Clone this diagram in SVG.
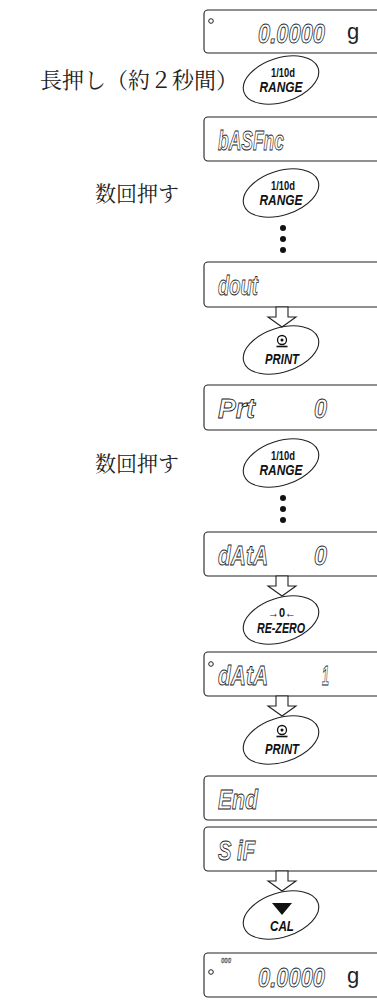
<svg xmlns="http://www.w3.org/2000/svg" width="377" height="1007" viewBox="0 0 377 1007">
<style>
.box{fill:#fff;stroke:#222;stroke-width:1.1}
.seg{font-family:"Liberation Sans",Arial,sans-serif;font-weight:bold;font-style:italic;font-size:28px;fill:#fff;stroke:#222;stroke-width:0.9}
.small{font-size:8px;stroke-width:0.45}
.unit{font-family:"Liberation Sans",Arial,sans-serif;font-size:22px;fill:#222}
.ind{fill:none;stroke:#222;stroke-width:1}
.key{fill:#fff;stroke:#222;stroke-width:1.1}
.kt{font-family:"Liberation Sans",Arial,sans-serif;font-weight:bold;font-size:12px;fill:#111;text-anchor:middle}
.kn{font-family:"Liberation Sans",Arial,sans-serif;font-weight:bold;font-style:italic;font-size:14px;fill:#111;text-anchor:middle}
.jp{font-family:"Noto Serif CJK JP","Noto Sans CJK JP",serif;fill:#222;text-anchor:end}
.arrow{fill:#fff;stroke:#222;stroke-width:1.1}
.dot{fill:#111}
</style>
<defs>
<polygon id="harrow" class="arrow" points="-6,0 6,0 6,10 14,10 0,20 -14,10 -6,10"/>
<ellipse id="keyshape" class="key" rx="39" ry="22" transform="rotate(-18)"/>
<g id="printicon">
<circle cx="0" cy="-10" r="4.5" fill="#fff" stroke="#111" stroke-width="1.3"/>
<circle cx="0" cy="-10" r="1.5" fill="#111"/>
<line x1="-5.5" y1="-3.5" x2="5.5" y2="-3.5" stroke="#111" stroke-width="1.6"/>
</g>
</defs>

<g id="disp1">
<rect class="box" x="204" y="10" width="190" height="43" rx="4"/>
<circle class="ind" cx="211" cy="21" r="2.3"/>
<text class="seg" x="258" y="43" textLength="67" lengthAdjust="spacingAndGlyphs">0.0000</text>
<text class="unit" x="347" y="39">g</text>
</g>

<g id="key1">
<text class="jp" x="238" y="88" font-size="22">長押し（約２秒間）</text>
<use href="#keyshape" transform="translate(281,80)"/>
<text class="kt" x="283" y="77" textLength="24" lengthAdjust="spacingAndGlyphs">1/10d</text>
<text class="kn" x="281" y="92" textLength="43" lengthAdjust="spacingAndGlyphs">RANGE</text>
</g>

<g id="disp2">
<rect class="box" x="204" y="117" width="190" height="44" rx="4"/>
<text class="seg" x="218" y="150" textLength="66" lengthAdjust="spacingAndGlyphs">bASFnc</text>
</g>

<g id="key2">
<text class="jp" x="179" y="201" font-size="21">数回押す</text>
<use href="#keyshape" transform="translate(281,193)"/>
<text class="kt" x="283" y="190" textLength="24" lengthAdjust="spacingAndGlyphs">1/10d</text>
<text class="kn" x="281" y="205" textLength="43" lengthAdjust="spacingAndGlyphs">RANGE</text>
</g>

<g id="disp3">
<rect class="box" x="204" y="262" width="190" height="45" rx="4"/>
<text class="seg" x="218" y="295" textLength="40" lengthAdjust="spacingAndGlyphs">dout</text>
</g>

<g id="key3">
<use href="#keyshape" transform="translate(281,350)"/>
<use href="#printicon" transform="translate(282,350)"/>
<text class="kn" x="282" y="364" textLength="34" lengthAdjust="spacingAndGlyphs">PRINT</text>
</g>

<g id="disp4">
<rect class="box" x="204" y="385" width="190" height="45" rx="4"/>
<text class="seg" x="218" y="418" textLength="37" lengthAdjust="spacingAndGlyphs">Prt</text>
<text class="seg" x="314" y="418" textLength="13" lengthAdjust="spacingAndGlyphs">0</text>
</g>

<g id="key4">
<text class="jp" x="179" y="471" font-size="21">数回押す</text>
<use href="#keyshape" transform="translate(281,463)"/>
<text class="kt" x="283" y="460" textLength="24" lengthAdjust="spacingAndGlyphs">1/10d</text>
<text class="kn" x="281" y="475" textLength="43" lengthAdjust="spacingAndGlyphs">RANGE</text>
</g>

<g id="disp5">
<rect class="box" x="204" y="532" width="190" height="44" rx="4"/>
<text class="seg" x="218" y="565" textLength="50" lengthAdjust="spacingAndGlyphs">dAtA</text>
<text class="seg" x="314" y="565" textLength="13" lengthAdjust="spacingAndGlyphs">0</text>
</g>

<g id="key5">
<use href="#keyshape" transform="translate(281,620)"/>
<text class="kt" x="282" y="617" font-size="14" textLength="28" lengthAdjust="spacingAndGlyphs">→0←</text>
<text class="kn" x="281" y="633" textLength="48" lengthAdjust="spacingAndGlyphs">RE-ZERO</text>
</g>

<g id="disp6">
<rect class="box" x="204" y="652" width="190" height="44" rx="4"/>
<circle class="ind" cx="211" cy="664" r="2.3"/>
<text class="seg" x="218" y="685" textLength="50" lengthAdjust="spacingAndGlyphs">dAtA</text>
<text class="seg" x="322" y="685" textLength="7" lengthAdjust="spacingAndGlyphs">1</text>
</g>

<g id="key6">
<use href="#keyshape" transform="translate(281,740)"/>
<use href="#printicon" transform="translate(282,740)"/>
<text class="kn" x="282" y="754" textLength="34" lengthAdjust="spacingAndGlyphs">PRINT</text>
</g>

<g id="disp7">
<rect class="box" x="204" y="776" width="190" height="44" rx="4"/>
<text class="seg" x="218" y="809" textLength="40" lengthAdjust="spacingAndGlyphs">End</text>
</g>

<g id="disp8">
<rect class="box" x="204" y="827" width="190" height="44" rx="4"/>
<text class="seg" x="218" y="860" textLength="37" lengthAdjust="spacingAndGlyphs">S iF</text>
</g>

<g id="key7">
<use href="#keyshape" transform="translate(281,915)"/>
<polygon points="272,903 292,903 282,915" fill="#111"/>
<text class="kn" x="282" y="931" textLength="24" lengthAdjust="spacingAndGlyphs">CAL</text>
</g>

<g id="disp9">
<rect class="box" x="204" y="953" width="190" height="44" rx="4"/>
<circle class="ind" cx="211" cy="972" r="2.3"/>
<text class="seg small" x="221" y="963" textLength="10" lengthAdjust="spacingAndGlyphs">000</text>
<text class="seg" x="258" y="987" textLength="67" lengthAdjust="spacingAndGlyphs">0.0000</text>
<text class="unit" x="347" y="983">g</text>
</g>

<g id="connectors">
<circle class="dot" cx="283" cy="228" r="3"/>
<circle class="dot" cx="283" cy="239" r="3"/>
<circle class="dot" cx="283" cy="250" r="3"/>
<use href="#harrow" transform="translate(282,307)"/>
<circle class="dot" cx="283" cy="498" r="3"/>
<circle class="dot" cx="283" cy="509" r="3"/>
<circle class="dot" cx="283" cy="520" r="3"/>
<use href="#harrow" transform="translate(282,576)"/>
<use href="#harrow" transform="translate(282,696)"/>
<use href="#harrow" transform="translate(282,871)"/>
</g>
</svg>
